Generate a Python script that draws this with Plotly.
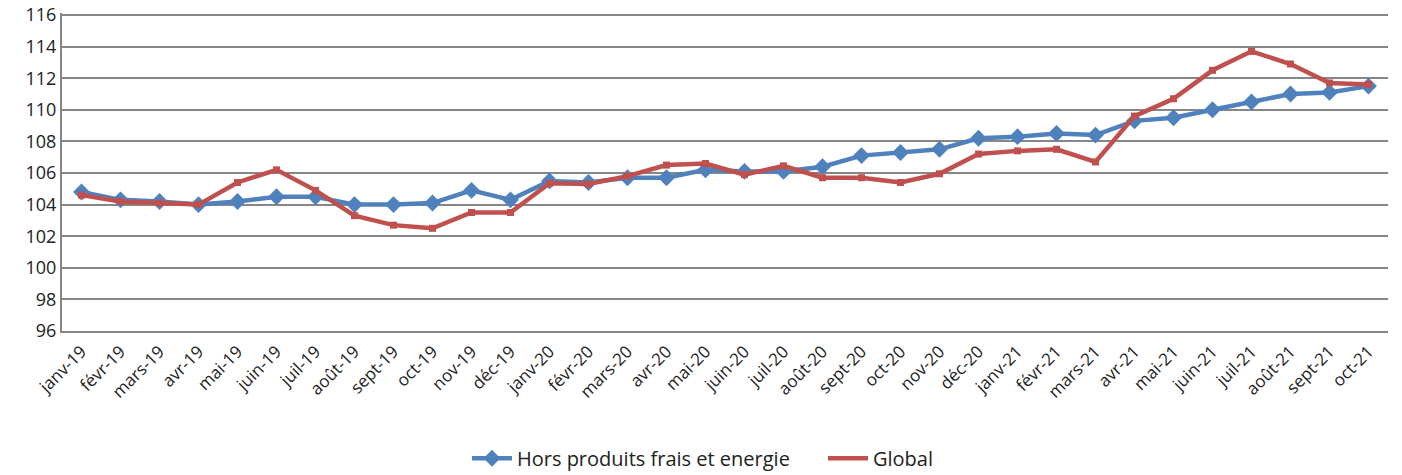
import plotly.graph_objects as go

categories = ["janv-19", "févr-19", "mars-19", "avr-19", "mai-19", "juin-19", "juil-19", "août-19",
              "sept-19", "oct-19", "nov-19", "déc-19", "janv-20", "févr-20", "mars-20", "avr-20",
              "mai-20", "juin-20", "juil-20", "août-20", "sept-20", "oct-20", "nov-20", "déc-20",
              "janv-21", "févr-21", "mars-21", "avr-21", "mai-21", "juin-21", "juil-21", "août-21",
              "sept-21", "oct-21"]

hors_produits = [104.8, 104.3, 104.2, 104.0, 104.2, 104.5, 104.5, 104.0,
                 104.0, 104.1, 104.9, 104.3, 105.5, 105.4, 105.7, 105.7,
                 106.2, 106.1, 106.1, 106.4, 107.1, 107.3, 107.5, 108.2,
                 108.3, 108.5, 108.4, 109.3, 109.5, 110.0, 110.5, 111.0,
                 111.1, 111.5]

global_idx = [104.6, 104.2, 104.1, 104.0, 105.4, 106.2, 104.9, 103.3,
              102.7, 102.5, 103.5, 103.5, 105.35, 105.3, 105.8, 106.5,
              106.6, 105.9, 106.45, 105.7, 105.7, 105.4, 105.95, 107.2,
              107.4, 107.5, 106.7, 109.6, 110.7, 112.5, 113.7, 112.9,
              111.7, 111.6]

y_ticks = list(range(96, 117, 2))

FONT = "Open Sans"
BLUE = "#4F81BD"
RED = "#C0504D"

fig = go.Figure()
fig.add_trace(go.Scatter(
    x=categories, y=hors_produits, name="Hors produits frais et energie",
    mode="lines+markers",
    line=dict(color=BLUE, width=4.5),
    marker=dict(symbol="diamond", size=13, color=BLUE),
))
fig.add_trace(go.Scatter(
    x=categories, y=global_idx, name="Global",
    mode="lines",
    line=dict(color=RED, width=4.5),
))
fig.add_trace(go.Scatter(
    x=categories, y=global_idx, name="Global", showlegend=False,
    mode="markers",
    marker=dict(symbol="square", size=7, color=RED),
))

fig.update_layout(
    width=1402, height=475,
    margin=dict(l=62, r=14, t=13, b=144, autoexpand=False),
    paper_bgcolor="white", plot_bgcolor="white",
    font=dict(family=FONT, size=16, color="#000000"),
    showlegend=True,
    legend=dict(orientation="h", x=0.3054, xanchor="left", y=-0.40, yanchor="middle",
                font=dict(family=FONT, size=20, color="#222222"), itemwidth=40,
                entrywidth=301),
    xaxis=dict(
        type="category", range=[-0.5, len(categories) - 0.5],
        tickangle=-45, tickfont=dict(family=FONT, size=17, color="#222222"),
        showgrid=False, showline=True, linecolor="#868686", linewidth=2,
        ticks="", automargin=False, ticklabelstandoff=2,
    ),
    yaxis=dict(
        range=[96, 116.127], tickvals=y_ticks, ticktext=[str(v) for v in y_ticks],
        tickfont=dict(family=FONT, size=18, color="#222222"),
        showgrid=True, gridcolor="#868686", gridwidth=2,
        showline=True, linecolor="#868686", linewidth=2,
        zeroline=False, ticks="", ticklen=0, automargin=False,
        ticklabeloverflow="allow",
    ),
)

# remove the browser's default 8px body margin so the figure sits at the page origin
fig.write_html("out.html", config={"displayModeBar": False},
               post_script="document.body.style.margin='0';")
